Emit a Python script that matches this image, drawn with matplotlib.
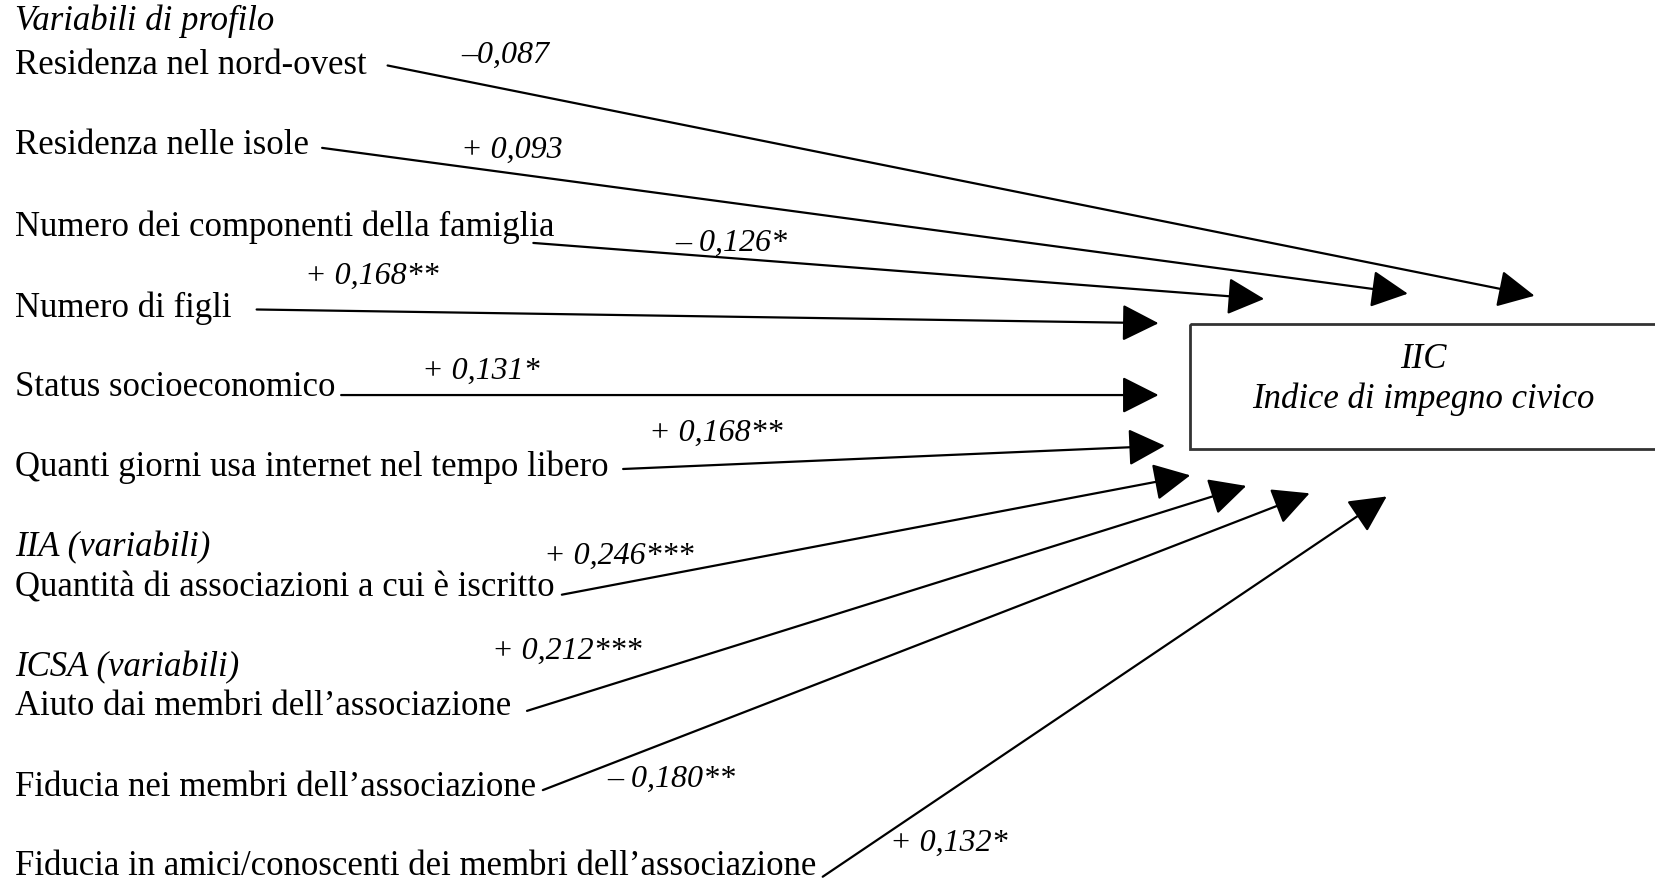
import matplotlib.pyplot as plt
from matplotlib.patches import Rectangle

plt.rcParams['font.family'] = ['Liberation Serif', 'DejaVu Serif']

# variables (left column) and their path coefficients
labels = ["Residenza nel nord-ovest", "Residenza nelle isole",
          "Numero dei componenti della famiglia", "Numero di figli",
          "Status socioeconomico", "Quanti giorni usa internet nel tempo libero",
          "Quantità di associazioni a cui è iscritto",
          "Aiuto dai membri dell\u2019associazione",
          "Fiducia nei membri dell\u2019associazione",
          "Fiducia in amici/conoscenti dei membri dell\u2019associazione"]
coefs = ["\u20130,087", "+ 0,093", "\u2013 0,126*", "+ 0,168**", "+ 0,131*",
         "+ 0,168**", "+ 0,246***", "+ 0,212***", "\u2013 0,180**", "+ 0,132*"]
groups = ["Variabili di profilo", "IIA (variabili)", "ICSA (variabili)"]
target = ["IIC", "Indice di impegno civico"]

# layout (drawing coordinates, y grows downwards)
label_y = [62, 138, 215, 292, 367, 442, 557, 669, 746, 820]
group_y = [20, 519, 632]
start = [(367, 62), (305, 140), (505, 230), (243, 293), (323, 374), (590, 444),
         (532, 563), (499, 673), (514, 748), (779, 830)]
tips = [(1453, 280), (1333, 278), (1197, 283), (1097, 306), (1097, 374), (1103, 422),
        (1127, 450), (1180, 460), (1240, 467), (1313, 470)]
coef_pos = [(478, 52), (485, 142), (692, 230), (352, 262), (455, 352), (678, 410),
            (586, 527), (537, 617), (636, 738), (898, 798)]

fig = plt.figure(figsize=(16.56, 8.82), dpi=100)
ax = fig.add_axes([0, 0, 1, 1])
ax.set_xlim(0, 1568)
ax.set_ylim(835, 0)
ax.axis('off')

fs = 25

for g, y in zip(groups, group_y):
    ax.text(14, y, g, fontsize=fs, style='italic', va='center', ha='left')

for lab, y in zip(labels, label_y):
    ax.text(14, y, lab, fontsize=fs, va='center', ha='left')

for s, t in zip(start, tips):
    ax.annotate('', xy=t, xytext=s,
                arrowprops=dict(arrowstyle='-|>,head_length=1.15,head_width=0.58',
                                color='black', lw=1.6, mutation_scale=20,
                                shrinkA=0, shrinkB=0))

for c, (x, y) in zip(coefs, coef_pos):
    ax.text(x, y, c, fontsize=23, style='italic', va='center', ha='center')

ax.add_patch(Rectangle((1127, 307), 500, 118, fill=False, edgecolor='#333333', lw=2,
                       clip_on=True))
ax.text(1348, 340, target[0], fontsize=fs, style='italic', va='center', ha='center')
ax.text(1348, 378, target[1], fontsize=fs, style='italic', va='center', ha='center')

fig.savefig('out.png', dpi=100)
